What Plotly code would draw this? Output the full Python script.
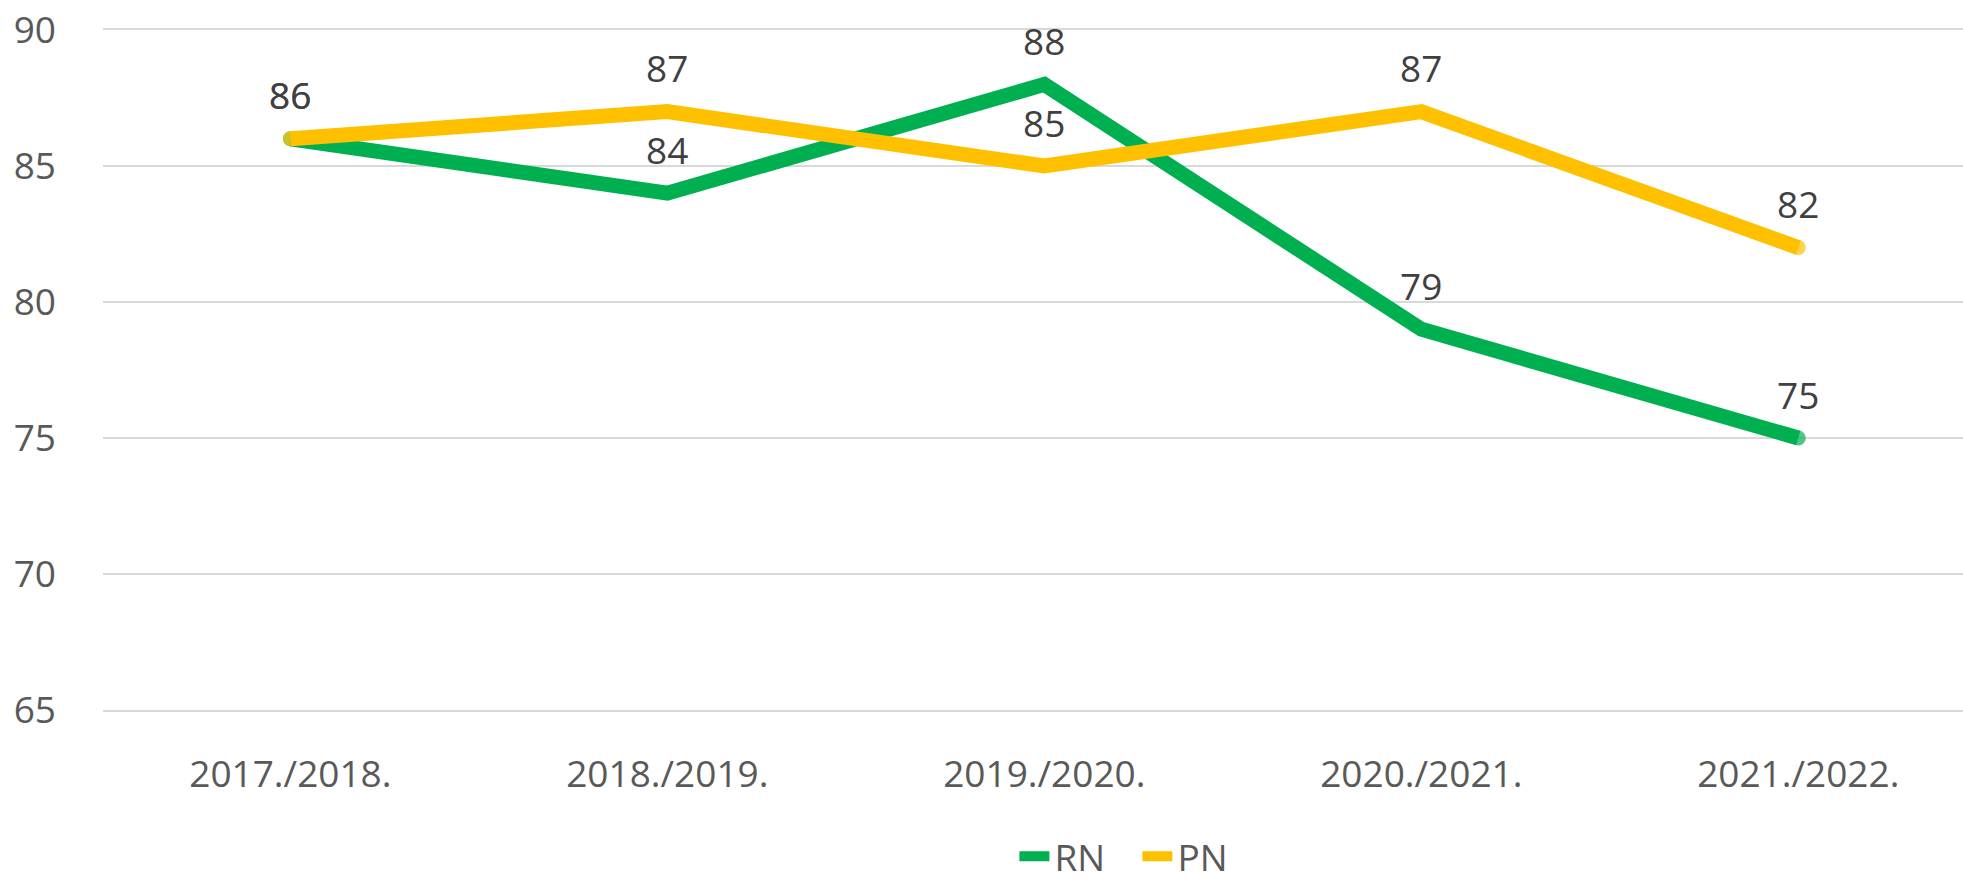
import plotly.graph_objects as go

categories = ["2017./2018.", "2018./2019.", "2019./2020.", "2020./2021.", "2021./2022."]
rn_values = [86, 84, 88, 79, 75]
pn_values = [86, 87, 85, 87, 82]

GREEN = "#00B050"
YELLOW = "#FFC000"
FONT = "Open Sans, Liberation Sans, sans-serif"
LW = 15

fig = go.Figure()
for name, vals, col in [("RN", rn_values, GREEN), ("PN", pn_values, YELLOW)]:
    sizes = [LW] + [0] * (len(vals) - 2) + [LW]
    fig.add_trace(go.Scatter(
        x=categories, y=vals, name=name, mode="lines+markers",
        line=dict(color=col, width=LW),
        marker=dict(color=col, size=sizes, line=dict(width=0)),
        hoverinfo="skip", cliponaxis=False,
    ))
    for c, v in zip(categories, vals):
        fig.add_annotation(x=c, y=v, text=str(v), showarrow=False,
                           yshift=44, font=dict(family=FONT, size=37, color="#404040"))

fig.update_layout(
    width=1963, height=882,
    margin=dict(l=103, r=0, t=30, b=172, autoexpand=False),
    paper_bgcolor="white", plot_bgcolor="white",
    font=dict(family=FONT, size=37, color="#595959"),
    showlegend=True,
    legend=dict(orientation="h", x=0.49, xanchor="left", y=-0.17, yanchor="top",
                font=dict(family=FONT, size=37, color="#595959"),
                entrywidth=78, entrywidthmode="pixels",
                tracegroupgap=0, bgcolor="rgba(0,0,0,0)"),
)
fig.update_xaxes(range=[-0.497, 4.437], showgrid=False, zeroline=False, ticks="",
                 showline=True, mirror=True, linecolor="#d9d9d9", linewidth=2,
                 automargin=False, ticklabelstandoff=31, tickfont=dict(size=37, color="#595959"))
fig.update_yaxes(range=[65, 90], dtick=5, showgrid=True,
                 gridcolor="#d9d9d9", gridwidth=2,
                 zeroline=False, showline=False, ticks="", automargin=False, ticklabelstandoff=46,
                 tickfont=dict(size=37, color="#595959"))

fig.write_html("out.html", config={"displayModeBar": False},
               post_script="document.body.style.margin='0';")
